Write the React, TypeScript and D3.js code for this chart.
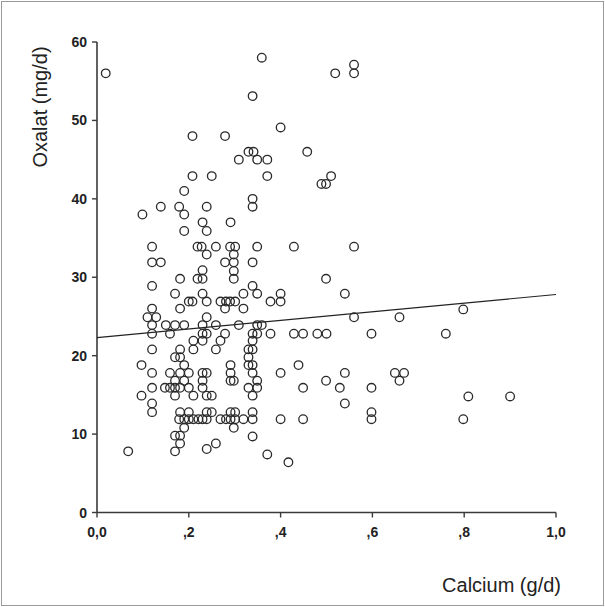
import React from 'react';
import { scaleLinear, line } from 'd3';

// calcium (g/d) and oxalate (mg/d) per subject
const calcium = [
  0.019, 0.359, 0.339, 0.400, 0.208, 0.279, 0.330, 0.341, 0.309, 0.349, 0.371, 0.208, 0.250, 0.371, 0.190, 0.339,
  0.519, 0.560, 0.560, 0.458, 0.510, 0.489, 0.499,
  0.339, 0.099, 0.139, 0.179, 0.239, 0.190, 0.230, 0.291, 0.190, 0.239,
  0.120, 0.219, 0.228, 0.259, 0.290, 0.301, 0.349, 0.239, 0.298,
  0.120, 0.139, 0.230, 0.279, 0.298, 0.339, 0.298,
  0.181, 0.219, 0.230, 0.298, 0.120, 0.339,
  0.170, 0.230, 0.319, 0.349, 0.400,
  0.200, 0.208, 0.239, 0.269, 0.281, 0.290, 0.301, 0.378, 0.400,
  0.181, 0.279, 0.319, 0.120,
  0.110, 0.129, 0.239,
  0.120, 0.150, 0.170, 0.190, 0.230, 0.259, 0.309, 0.349, 0.359,
  0.120, 0.159, 0.230, 0.239, 0.279, 0.339, 0.349, 0.378,
  0.210, 0.230, 0.269, 0.339,
  0.120, 0.181, 0.259, 0.339, 0.210, 0.330,
  0.170, 0.181, 0.330,
  0.429, 0.560, 0.499, 0.540, 0.560, 0.659, 0.798,
  0.429, 0.449, 0.480, 0.500, 0.598, 0.760,
  0.097, 0.190, 0.291, 0.330, 0.339,
  0.120, 0.159, 0.181, 0.200, 0.230, 0.239, 0.291, 0.339, 0.400,
  0.170, 0.190, 0.230, 0.291, 0.298, 0.349,
  0.097, 0.120, 0.148, 0.159, 0.170, 0.181, 0.200, 0.230, 0.330, 0.349,
  0.170, 0.210, 0.239, 0.250, 0.339,
  0.120, 0.120, 0.181, 0.200, 0.239, 0.250, 0.291, 0.301, 0.339,
  0.179, 0.190, 0.200, 0.210, 0.221, 0.230, 0.239, 0.269, 0.281, 0.291, 0.301, 0.319, 0.339, 0.400,
  0.190, 0.298, 0.170, 0.181, 0.339, 0.181, 0.259, 0.170, 0.239, 0.068, 0.371, 0.417,
  0.439, 0.449, 0.449, 0.499, 0.540, 0.529, 0.540, 0.598, 0.598, 0.598, 0.649, 0.669, 0.659, 0.809, 0.900, 0.798,
];

const oxalate = [
  56.0, 58.0, 53.1, 49.1, 48.0, 48.0, 46.0, 46.0, 45.0, 45.0, 45.0, 42.9, 42.9, 42.9, 41.0, 40.0,
  56.0, 57.1, 56.0, 46.0, 42.9, 41.9, 41.9,
  39.0, 38.0, 39.0, 39.0, 39.0, 38.0, 37.0, 37.0, 35.9, 35.9,
  33.9, 33.9, 33.9, 33.9, 33.9, 33.9, 33.9, 32.9, 32.9,
  31.9, 31.9, 30.9, 31.9, 31.9, 31.9, 30.8,
  29.8, 29.8, 29.8, 29.8, 28.9, 28.9,
  27.9, 27.9, 27.9, 27.9, 27.9,
  26.9, 26.9, 26.9, 26.9, 26.9, 26.9, 26.9, 26.9, 26.9,
  26.0, 26.0, 26.0, 26.0,
  24.9, 24.9, 24.9,
  23.9, 23.9, 23.9, 23.9, 23.9, 23.9, 23.9, 23.9, 23.9,
  22.8, 22.8, 22.8, 22.8, 22.8, 22.8, 22.8, 22.8,
  21.9, 21.9, 21.9, 21.9,
  20.8, 20.8, 20.8, 20.8, 20.8, 20.8,
  19.8, 19.8, 19.8,
  33.9, 33.9, 29.8, 27.9, 24.9, 24.9, 25.9,
  22.8, 22.8, 22.8, 22.8, 22.8, 22.8,
  18.8, 18.8, 18.8, 18.8, 18.8,
  17.8, 17.8, 17.8, 17.8, 17.8, 17.8, 17.8, 17.8, 17.8,
  16.8, 16.8, 16.8, 16.8, 16.8, 16.8,
  14.9, 15.9, 15.9, 15.9, 15.9, 15.9, 15.9, 15.9, 15.9, 15.9,
  14.9, 14.9, 14.9, 14.9, 14.9,
  13.9, 12.8, 12.8, 12.8, 12.8, 12.8, 12.8, 12.8, 12.8,
  11.9, 11.9, 11.9, 11.9, 11.9, 11.9, 11.9, 11.9, 11.9, 11.9, 11.9, 11.9, 11.9, 11.9,
  10.8, 10.8, 9.8, 9.8, 9.7, 8.8, 8.8, 7.8, 8.1, 7.8, 7.4, 6.4,
  18.8, 15.9, 11.9, 16.8, 17.8, 15.9, 13.9, 15.9, 12.8, 11.9, 17.8, 17.8, 16.8, 14.8, 14.8, 11.9,
];

// fitted line, value at calcium 0 and at calcium 1
const fitX = [0, 1];
const fitY = [22.3, 27.8];

const xTicks = [0, 0.2, 0.4, 0.6, 0.8, 1.0];
const xTickLabels = ['0,0', ',2', ',4', ',6', ',8', '1,0'];
const yTicks = [0, 10, 20, 30, 40, 50, 60];

const W = 605;
const H = 607;

export default function App() {
  const x = scaleLinear().domain([0, 1]).range([97, 556]);
  const y = scaleLinear().domain([0, 60]).range([512.5, 42]);

  const fitPath = line<number>()
    .x((d) => x(d))
    .y((d, i) => y(fitY[i]))(fitX);

  const axisColor = '#3a3a3a';

  return (
    <div style={{ position: 'fixed', left: 0, top: 0 }}>
      <svg width={W} height={H} style={{ display: 'block', background: '#fff' }}>
        <rect x={1.5} y={1.5} width={W - 3} height={H - 3} fill="none" stroke="#9a9a9a" strokeWidth={1} />

        {/* axes */}
        <line x1={x(0)} x2={x(0)} y1={y(60)} y2={y(0)} stroke={axisColor} strokeWidth={1.6} />
        <line x1={x(0)} x2={x(1)} y1={y(0)} y2={y(0)} stroke={axisColor} strokeWidth={1.6} />

        {yTicks.map((t) => (
          <g key={'y' + t}>
            <line x1={x(0) - 5} x2={x(0)} y1={y(t)} y2={y(t)} stroke={axisColor} strokeWidth={1.4} />
            <text
              x={x(0) - 10}
              y={y(t)}
              dy="0.36em"
              textAnchor="end"
              fontFamily="Liberation Sans, Arial, sans-serif"
              fontWeight="bold"
              fontSize={14}
              fill="#222"
            >
              {t}
            </text>
          </g>
        ))}

        {xTicks.map((t, i) => (
          <g key={'x' + t}>
            <line x1={x(t)} x2={x(t)} y1={y(0)} y2={y(0) + 5} stroke={axisColor} strokeWidth={1.4} />
            <text
              x={x(t)}
              y={y(0) + 24}
              textAnchor="middle"
              fontFamily="Liberation Sans, Arial, sans-serif"
              fontWeight="bold"
              fontSize={14}
              fill="#222"
            >
              {xTickLabels[i]}
            </text>
          </g>
        ))}

        {/* axis titles */}
        <text
          transform="translate(47,107) rotate(-90)"
          textAnchor="middle"
          fontFamily="Liberation Sans, Arial, sans-serif"
          fontSize={20}
          fill="#222"
        >
          Oxalat (mg/d)
        </text>
        <text
          x={561}
          y={592}
          textAnchor="end"
          fontFamily="Liberation Sans, Arial, sans-serif"
          fontSize={20}
          fill="#222"
        >
          Calcium (g/d)
        </text>

        {/* regression line */}
        <path d={fitPath ?? ''} fill="none" stroke="#222" strokeWidth={1.2} />

        {/* points */}
        {calcium.map((c, i) => (
          <circle
            key={i}
            cx={x(c)}
            cy={y(oxalate[i])}
            r={4.3}
            fill="none"
            stroke="#2a2a2a"
            strokeWidth={1.3}
          />
        ))}
      </svg>
    </div>
  );
}
